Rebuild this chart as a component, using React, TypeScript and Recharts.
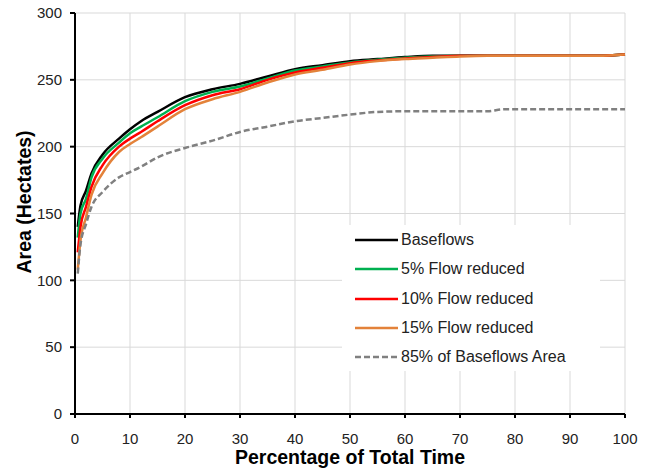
import { LineChart, Line, XAxis, YAxis, CartesianGrid } from 'recharts';

// percentage of total time (x) and area in hectares for each scenario
const tiempo = [0.5, 1, 2, 3, 5, 8, 10, 12, 15, 20, 25, 30, 35, 40, 45, 50, 55, 60, 65, 70, 75, 78, 80, 85, 90, 95, 100];
const baseflows = [140, 156, 167, 180, 194, 206, 213, 219, 226, 237, 243, 247, 252.5, 258, 261, 264, 265.5, 267, 268, 268, 268, 268, 268, 268, 268, 268, 269];
const reducido5 = [132, 150, 161, 177, 191, 203, 210, 215, 222, 234, 241, 245, 251, 257, 260, 263, 265, 266.5, 267.5, 268, 268, 268, 268, 268, 268, 268, 269];
const reducido10 = [121, 140, 155, 170, 186, 200, 206, 211, 219, 231, 238.5, 243, 250, 255.5, 259, 262.5, 264.5, 266, 267, 268, 268, 268, 268, 268, 268, 268, 269];
const reducido15 = [108, 130, 147, 164, 180, 196, 202, 207, 215, 228, 235.5, 241, 248, 254, 257.5, 261.5, 264, 265.5, 266.5, 267.5, 268, 268, 268, 268, 268, 268, 269];
const area85 = [105, 127, 142, 155, 166, 177, 181, 185, 192, 199, 204.5, 211, 215, 219, 221.5, 224, 226, 226.5, 226.5, 226.5, 226.5, 228, 228, 228, 228, 228, 228];

const ticksX = [0, 10, 20, 30, 40, 50, 60, 70, 80, 90, 100];
const ticksY = [0, 50, 100, 150, 200, 250, 300];

const datos = tiempo.map((t, i) => ({
  t,
  base: baseflows[i],
  r5: reducido5[i],
  r10: reducido10[i],
  r15: reducido15[i],
  a85: area85[i],
}));

const series = [
  { key: 'base', name: 'Baseflows', color: '#000000', dash: undefined },
  { key: 'r5', name: '5% Flow reduced', color: '#00b050', dash: undefined },
  { key: 'r10', name: '10% Flow reduced', color: '#ff0000', dash: undefined },
  { key: 'r15', name: '15% Flow reduced', color: '#e3823a', dash: undefined },
  { key: 'a85', name: '85% of Baseflows Area', color: '#808080', dash: '6 3' },
];

const FUENTE = '"Liberation Sans", Arial, sans-serif';

// Leyenda propia, caja blanca sin borde, encima del gráfico
const Leyenda = () => (
  <div style={{ position: 'absolute', left: 342, top: 225, width: 258, height: 146, background: '#fff', fontFamily: FUENTE }}>
    {series.map((s, i) => (
      <div key={s.key} style={{ position: 'absolute', left: 0, top: 15 + i * 29.3 - 10, height: 20, display: 'flex', alignItems: 'center' }}>
        <svg width={44} height={6} style={{ marginLeft: 13 }}>
          <line x1={0} y1={3} x2={43} y2={3} stroke={s.color} strokeWidth={2.5} strokeDasharray={s.dash} />
        </svg>
        <span style={{ fontSize: 16, color: '#222', marginLeft: 2, whiteSpace: 'nowrap' }}>{s.name}</span>
      </div>
    ))}
  </div>
);

export default function App() {
  return (
    <div style={{ position: 'absolute', left: 0, top: 0, width: 648, height: 468, background: '#fff' }}>
      <LineChart width={648} height={468} data={datos} margin={{ top: 13, right: 23, left: 30, bottom: 4 }}>
        <CartesianGrid stroke="#d9d9d9" strokeWidth={1} />
        <XAxis
          dataKey="t"
          type="number"
          domain={[0, 100]}
          ticks={ticksX}
          height={50}
          stroke="#000"
          strokeWidth={2}
          tickSize={4}
          tickMargin={15}
          tick={{ fill: '#222', fontSize: 15, fontFamily: FUENTE }}
          label={{ value: 'Percentage of Total Time', position: 'insideBottom', offset: 0, fill: '#000', fontSize: 19.5, fontWeight: 'bold', fontFamily: FUENTE }}
        />
        <YAxis
          type="number"
          domain={[0, 300]}
          ticks={ticksY}
          width={45}
          stroke="#000"
          strokeWidth={2}
          tickSize={5}
          tickMargin={8}
          tick={{ fill: '#222', fontSize: 15, fontFamily: FUENTE }}
          label={{ value: 'Area (Hectates)', angle: -90, position: 'insideLeft', offset: -6, dy: 60, fill: '#000', fontSize: 19.5, fontWeight: 'bold', fontFamily: FUENTE }}
        />
        {series.map((s) => (
          <Line
            key={s.key}
            type="monotone"
            dataKey={s.key}
            name={s.name}
            stroke={s.color}
            strokeWidth={2.5}
            strokeDasharray={s.dash}
            dot={false}
            isAnimationActive={false}
          />
        ))}
      </LineChart>
      <Leyenda />
    </div>
  );
}
